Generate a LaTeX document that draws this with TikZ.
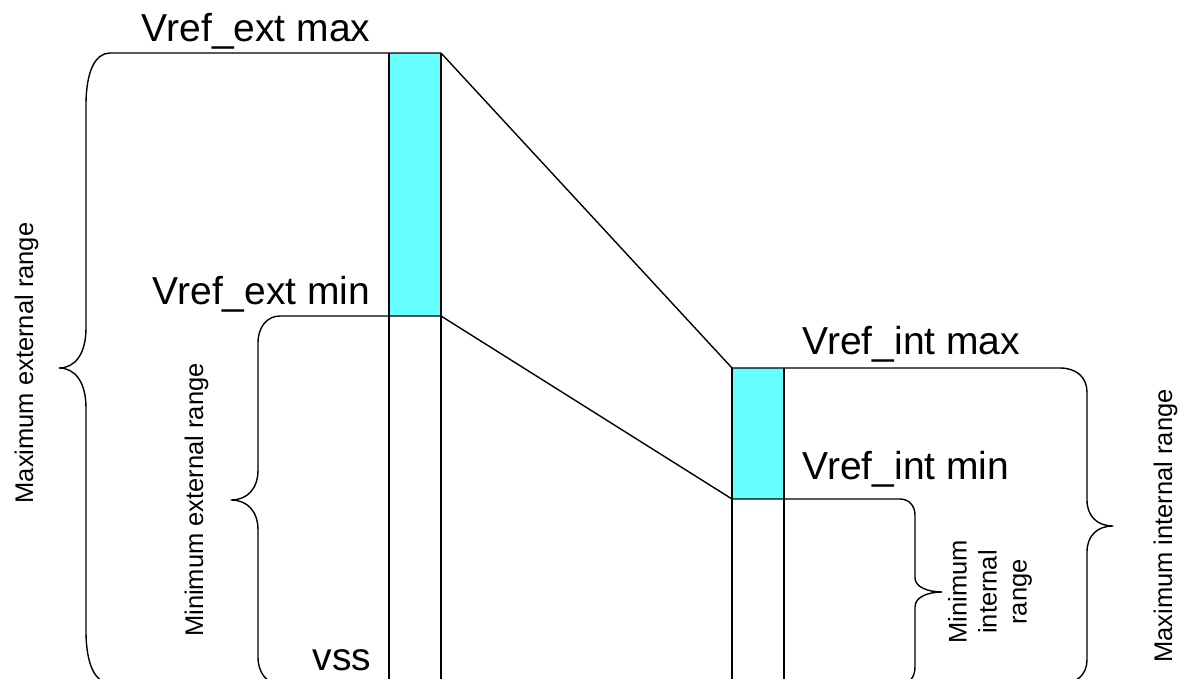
\documentclass[tikz,border=0pt]{standalone}
\usepackage{fontspec}
\setmainfont{Liberation Sans}
\definecolor{bandcyan}{RGB}{102,255,255}
\begin{document}
\begin{tikzpicture}[x=1pt,y=-1pt,line width=1.4pt,line join=round,
  lbl/.style={font=\fontsize{39}{45}\selectfont,inner sep=0pt},
  vlbl/.style={font=\fontsize{25.5}{30}\selectfont,inner sep=0pt,rotate=90,align=center},
  band/.style={fill=bandcyan},
  bracepath/.style={draw}]
\useasboundingbox (0,0) rectangle (1179,679);
\clip (0,0) rectangle (1179,679);
% key corners
\coordinate (ETL) at (389,53);
\coordinate (ETR) at (441,53);
\coordinate (EML) at (389,316);
\coordinate (EMR) at (441,316);
\coordinate (EBL) at (389,690);
\coordinate (EBR) at (441,690);
\coordinate (ITL) at (732,368);
\coordinate (ITR) at (784,368);
\coordinate (IML) at (732,499);
\coordinate (IMR) at (784,499);
\coordinate (IBL) at (732,690);
\coordinate (IBR) at (784,690);
% cyan bands
\fill[band] (ETL) rectangle (EMR);
\fill[band] (ITL) rectangle (IMR);
% column sides
\draw (ETL) -- (EBL);
\draw (ETR) -- (EBR);
\draw (ITL) -- (IBL);
\draw (ITR) -- (IBR);
% connecting lines
\draw (ETR) -- (ITL);
\draw (EMR) -- (IML);
% brace: maximum external range
\draw[bracepath] (ETR) -- (110,53) .. controls (95,53) and (86,72) .. (86,105) -- (86,328)
  .. controls (86,354) and (75,368) .. (59,368) .. controls (75,368) and (86,382) .. (86,408)
  -- (86,631) .. controls (86,664) and (95,683) .. (110,683);
% brace: minimum external range
\draw[bracepath] (EMR) -- (280,316) .. controls (267,316) and (258,327) .. (258,343) -- (258,470)
  .. controls (258,489) and (247,500) .. (231,500) .. controls (247,500) and (258,511) .. (258,530)
  -- (258,657) .. controls (258,673) and (267,684) .. (280,684);
% brace: maximum internal range
\draw[bracepath] (ITL) -- (1060,368) .. controls (1076,368) and (1087,377) .. (1087,392) -- (1087,500)
  .. controls (1087,516) and (1097,526) .. (1113,526) .. controls (1097,526) and (1087,536) .. (1087,552)
  -- (1087,660) .. controls (1087,675) and (1076,684) .. (1060,684);
% brace: minimum internal range
\draw[bracepath] (IML) -- (900,499) .. controls (909,499) and (915,506) .. (915,515) -- (915,578)
  .. controls (915,587) and (928,592) .. (942,592) .. controls (928,592) and (915,597) .. (915,607)
  -- (915,667) .. controls (915,677) and (909,685) .. (900,685);
% labels
\node[lbl,anchor=base east] (lextmax) at (371,42) {Vref\_ext max};
\node[lbl,anchor=base east] (lextmin) at (371,305) {Vref\_ext min};
\node[lbl,anchor=base west] (lintmax) at (802,355) {Vref\_int max};
\node[lbl,anchor=base west] (lintmin) at (802,479) {Vref\_int min};
\node[lbl,anchor=base east] (lvss) at (372,670) {vss};
\node[vlbl,anchor=base] (lmaxext) at (33,363) {Maximum external range};
\node[vlbl,anchor=base] (lminext) at (203,500) {Minimum external range};
\node[vlbl,anchor=base] (lmaxint) at (1172,526) {Maximum internal range};
\node[vlbl,anchor=center] (lminint) at (990,592) {Minimum\\internal\\range};
\end{tikzpicture}
\end{document}
